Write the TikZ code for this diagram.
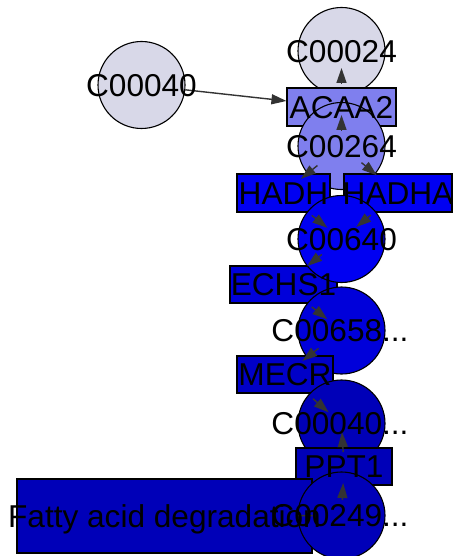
\documentclass[tikz,border=0pt]{standalone}
\usepackage{fontspec}
\setmainfont{Liberation Sans}
\usetikzlibrary{arrows.meta}
\definecolor{lav}{RGB}{216,216,232}
\definecolor{peri}{RGB}{127,127,238}
\definecolor{b1}{RGB}{0,0,242}
\definecolor{b2}{RGB}{0,0,218}
\definecolor{b3}{RGB}{0,0,200}
\definecolor{b4}{RGB}{0,0,184}
\definecolor{edgec}{RGB}{51,51,51}
\tikzset{
  cpd/.style={circle,draw=black,line width=1.1pt,minimum size=87pt,inner sep=0pt},
  gene/.style={rectangle,draw=black,line width=1.1pt,inner sep=0pt},
  lbl/.style={inner sep=0pt,text height=22.6pt,text depth=0pt,font=\fontsize{31.6}{31.6}\selectfont},
  rel/.style={draw=edgec,line width=1.4pt,-{Triangle[length=15pt,width=10pt]}},
  plain/.style={draw=edgec,line width=1.4pt}
}
\begin{document}
\begin{tikzpicture}[x=1pt,y=-1pt]
\useasboundingbox (0,0) rectangle (453,556);
\clip (0,0) rectangle (453,556);
% shapes
\node[cpd,fill=lav] (c40a) at (141.5,85) {};
\node[cpd,fill=lav] (c24) at (341.5,51) {};
\node[gene,fill=peri,minimum width=109pt,minimum height=38pt] (acaa2) at (341.5,107) {};
\node[cpd,fill=peri] (c264) at (341.5,146) {};
\node[gene,fill=b1,minimum width=93pt,minimum height=38pt] (hadh) at (283.5,193) {};
\node[gene,fill=b1,minimum width=108pt,minimum height=38pt] (hadha) at (398,193) {};
\node[gene,fill=b2,minimum width=107pt,minimum height=37pt] (echs1) at (283.5,284.5) {};
\node[cpd,fill=b1] (c640) at (341.5,239) {};
\node[cpd,fill=b2] (c658) at (341.5,330.5) {};
\node[gene,fill=b3,minimum width=96pt,minimum height=37pt] (mecr) at (285,374.5) {};
\node[cpd,fill=b4] (c40b) at (341.5,423.5) {};
\node[gene,fill=b4,minimum width=96pt,minimum height=37pt] (ppt1) at (344,466.5) {};
\node[gene,fill=b4,minimum width=295pt,minimum height=74pt] (fad) at (164.5,516) {};
\node[cpd,fill=b4] (c249) at (341.5,515.5) {};
% connectors
\draw[rel] (c40a) -- (acaa2);
\draw[rel,shorten <=16pt,shorten >=8pt] (c264.center) -- (acaa2.center);
\draw[rel,shorten <=23pt,shorten >=17pt] (acaa2.center) -- (c24.center);
\draw[rel,shorten <=31pt,shorten >=22.5pt] (c264.center) -- (hadh.center);
\draw[rel,shorten <=26pt,shorten >=27.5pt] (c264.center) -- (hadha.center);
\draw[rel,shorten <=36pt,shorten >=18pt] (hadh.center) -- (c640.center);
\draw[rel,shorten <=35pt,shorten >=19pt] (hadha.center) -- (c640.center);
\draw[rel,shorten <=25pt,shorten >=30pt] (c640.center) -- (echs1.center);
\draw[rel,shorten <=36pt,shorten >=18pt] (echs1.center) -- (c658.center);
\draw[rel,shorten <=29pt,shorten >=22pt] (c658.center) -- (mecr.center);
\draw[rel,shorten <=37pt,shorten >=17pt] (mecr.center) -- (c40b.center);
\draw[rel,shorten <=14.5pt,shorten >=8.5pt] (ppt1.center) -- (c40b.center);
\draw[rel,shorten <=15.5pt,shorten >=16.5pt] (c249.center) -- (ppt1.center);
\draw[plain] (c249) -- (fad);
% labels
\node[lbl] (lc40a) at (c40a) {C00040};
\node[lbl] (lc24) at (c24) {C00024};
\node[lbl] (lacaa2) at (acaa2) {ACAA2};
\node[lbl] (lc264) at (c264) {C00264};
\node[lbl] (lhadh) at (hadh) {HADH};
\node[lbl] (lhadha) at (hadha) {HADHA};
\node[lbl] (lc640) at (c640) {C00640};
\node[lbl] (lechs1) at (echs1) {ECHS1};
\node[lbl] (lc658) at (340,330.5) {C00658...};
\node[lbl] (lmecr) at (mecr) {MECR};
\node[lbl] (lc40b) at (340,423.5) {C00040...};
\node[lbl] (lppt1) at (ppt1) {PPT1};
\node[lbl] (lfad) at (fad) {Fatty acid degradation};
\node[lbl] (lc249) at (340,515.5) {C00249...};
\end{tikzpicture}
\end{document}
